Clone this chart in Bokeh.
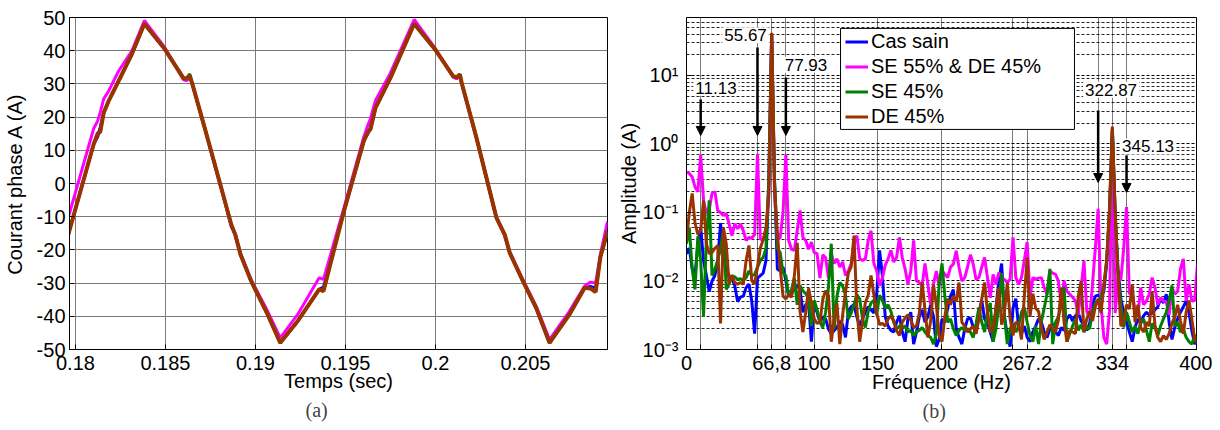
import numpy as np
from bokeh.plotting import figure
from bokeh.layouts import row
from bokeh.models import FixedTicker, Arrow, NormalHead, Label, Title, Range1d, BoxAnnotation
from bokeh.embed import file_html
from bokeh.resources import INLINE

FONT = "Liberation Sans"
SERIF = "Liberation Serif"

# ---------------- data: time domain (a) ----------------
t = [0.17960, 0.18101, 0.18123, 0.18138, 0.18157, 0.18184, 0.18239, 0.18313, 0.18383,
     0.18497, 0.18599, 0.18617, 0.18635, 0.18648, 0.18718, 0.18810, 0.18866, 0.18888,
     0.18917, 0.18976, 0.19068, 0.19138, 0.19234, 0.19354, 0.19378, 0.19492, 0.19602,
     0.19626, 0.19639, 0.19667, 0.19750, 0.19882, 0.19998, 0.20099, 0.20118, 0.20136,
     0.20146, 0.20228, 0.20339, 0.20385, 0.20413, 0.20486, 0.20560, 0.20634, 0.20744,
     0.20829, 0.20862, 0.20890, 0.20917, 0.20956]
i_sain = [-15.4, 11.8, 14.0, 17.0, 21.3, 24.8, 30.8, 38.9, 48.1,
          40.4, 31.8, 31.0, 32.3, 30.3, 16.8, -1.3, -13.0, -15.4,
          -21.4, -29.4, -39.5, -48.0, -41.5, -31.9, -31.2, -8.3, 12.8,
          15.2, 16.8, 22.8, 31.8, 48.1, 40.4, 32.3, 31.6, 32.6,
          30.3, 13.8, -10.3, -15.6, -20.9, -29.4, -37.5, -48.0, -39.5,
          -31.4, -31.0, -31.5, -22.0, -14.5]
i_se55_de45 = [-10.3, 16.5, 18.8, 21.5, 25.5, 27.8, 33.8, 39.9, 49.1,
               40.9, 31.3, 31.0, 32.0, 30.0, 16.5, -1.6, -12.4, -15.4,
               -21.0, -29.0, -38.5, -46.5, -39.5, -28.4, -28.9, -7.3, 14.0,
               17.8, 19.5, 25.0, 33.3, 49.4, 40.8, 32.0, 31.6, 32.3,
               30.0, 13.5, -10.6, -15.6, -20.6, -29.0, -37.0, -47.0, -38.5,
               -30.9, -29.7, -30.0, -21.2, -11.5]
i_se45 = [-15.4, 11.8, 15.0, 15.6, 21.3, 24.8, 30.8, 38.9, 48.1,
          40.4, 31.8, 31.6, 33.0, 30.3, 16.8, -1.3, -12.4, -15.4,
          -21.4, -29.4, -39.5, -48.0, -41.5, -31.9, -32.4, -8.3, 12.8,
          15.6, 16.3, 22.8, 31.8, 48.1, 40.4, 32.3, 32.0, 33.0,
          30.3, 13.8, -10.3, -15.4, -20.9, -29.4, -37.5, -48.0, -39.5,
          -31.4, -31.6, -32.5, -22.0, -14.5]
i_de45 = [-15.4, 11.8, 15.0, 15.6, 21.3, 24.8, 30.8, 38.9, 48.1,
          40.4, 31.8, 31.6, 32.5, 30.3, 16.8, -1.3, -12.4, -15.4,
          -21.4, -29.4, -39.5, -48.0, -41.5, -31.9, -32.4, -8.3, 12.8,
          15.6, 16.3, 22.8, 31.8, 48.1, 40.4, 32.3, 32.0, 32.8,
          30.3, 13.8, -10.3, -15.4, -20.9, -29.4, -37.5, -48.0, -39.5,
          -31.4, -31.6, -32.7, -22.0, -14.5]
t_ticks = [0.18, 0.185, 0.19, 0.195, 0.2, 0.205]
t_labels = ["0.18", "0.185", "0.19", "0.195", "0.2", "0.205"]
i_ticks = [-50, -40, -30, -20, -10, 0, 10, 20, 30, 40, 50]
i_labels = ["-50", "-40", "-30", "-20", "-10", "0", "10", "20", "30", "40", "50"]

# ---------------- data: spectrum (b) ----------------
df = 66.8 / 30
freq = np.arange(181) * df
a_sain = [0.025, 0.03, 0.015, 0.012, 0.035, 0.06, 0.02, 0.012, 0.007, 0.01,
          0.012, 0.02, 0.07, 0.02, 0.015, 0.012, 0.011, 0.0085, 0.005, 0.0058,
          0.006, 0.008, 0.009, 0.005, 0.0017, 0.011, 0.012, 0.013, 0.02, 0.3,
          40, 0.3, 0.015, 0.014, 0.016, 0.01, 0.006, 0.0065, 0.008, 0.0085,
          0.0075, 0.0035, 0.0045, 0.0048, 0.0013, 0.0048, 0.0035, 0.0025, 0.003, 0.0028,
          0.002, 0.0017, 0.0019, 0.0021, 0.0026, 0.0023, 0.0015, 0.0035, 0.0042, 0.0045,
          0.003, 0.0022, 0.0028, 0.0035, 0.0042, 0.0038, 0.0034, 0.0065, 0.028, 0.012,
          0.003, 0.0022, 0.0019, 0.0018, 0.0025, 0.0031, 0.0018, 0.0013, 0.0028, 0.0035,
          0.0012, 0.0018, 0.003, 0.0038, 0.0025, 0.003, 0.0045, 0.003, 0.0011, 0.0014,
          0.0028, 0.0025, 0.004, 0.006, 0.0075, 0.002, 0.0015, 0.0012, 0.002, 0.0028,
          0.0029, 0.0021, 0.0018, 0.0035, 0.0052, 0.0028, 0.0024, 0.0018, 0.0013, 0.004,
          0.01, 0.018, 0.003, 0.0016, 0.0011, 0.004, 0.0055, 0.0021, 0.0017, 0.0022,
          0.0015, 0.0013, 0.0018, 0.0022, 0.0028, 0.0025, 0.0018, 0.0015, 0.002, 0.0024,
          0.0018, 0.0016, 0.0021, 0.0019, 0.0028, 0.0032, 0.0026, 0.0031, 0.0034, 0.0026,
          0.0023, 0.0019, 0.0024, 0.0045, 0.006, 0.0062, 0.0058, 0.007, 0.018, 0.1,
          1.6, 0.09, 0.015, 0.0055, 0.0035, 0.0025, 0.0018, 0.0013, 0.0021, 0.0028,
          0.0024, 0.0031, 0.0035, 0.0032, 0.0034, 0.0038, 0.0042, 0.0055, 0.0048, 0.0064,
          0.0025, 0.0014, 0.0021, 0.0028, 0.0035, 0.0042, 0.0051, 0.0035, 0.0019, 0.0012,
          0.0014]
a_se55_de45 = [0.39, 0.37, 0.33, 0.236, 0.2, 0.69, 0.15, 0.096, 0.11, 0.19,
               0.2, 0.107, 0.1, 0.09, 0.096, 0.068, 0.046, 0.068, 0.058, 0.068,
               0.054, 0.039, 0.043, 0.042, 0.048, 0.72, 0.041, 0.039, 0.054, 0.17,
               40, 0.2, 0.039, 0.043, 0.1, 0.7, 0.039, 0.029, 0.028, 0.054,
               0.107, 0.043, 0.039, 0.029, 0.037, 0.026, 0.025, 0.011, 0.024, 0.022,
               0.011, 0.025, 0.018, 0.021, 0.016, 0.019, 0.012, 0.014, 0.018, 0.035,
               0.046, 0.021, 0.02, 0.021, 0.039, 0.054, 0.018, 0.014, 0.0085, 0.011,
               0.017, 0.021, 0.028, 0.019, 0.022, 0.043, 0.022, 0.015, 0.009, 0.014,
               0.039, 0.01, 0.0095, 0.0085, 0.018, 0.009, 0.0045, 0.009, 0.014, 0.0085,
               0.014, 0.0125, 0.0112, 0.016, 0.0176, 0.0276, 0.0157, 0.01, 0.0112, 0.016,
               0.0241, 0.0176, 0.0105, 0.0112, 0.016, 0.022, 0.0112, 0.0057, 0.0125, 0.0089,
               0.0133, 0.0112, 0.0105, 0.0095, 0.0106, 0.0434, 0.0112, 0.0089, 0.0112, 0.02,
               0.037, 0.0057, 0.0112, 0.0106, 0.011, 0.0112, 0.008, 0.0064, 0.014, 0.013,
               0.0125, 0.01, 0.0045, 0.01, 0.0071, 0.0064, 0.0058, 0.0051, 0.0032, 0.008,
               0.0197, 0.0036, 0.0029, 0.0089, 0.03, 0.113, 0.0045, 0.0015, 0.0012, 0.0036,
               1.5, 0.0034, 0.0112, 0.0105, 0.03, 0.12, 0.0064, 0.0071, 0.0036, 0.0032,
               0.008, 0.0045, 0.0051, 0.0064, 0.0112, 0.008, 0.0045, 0.0057, 0.0051, 0.005,
               0.0032, 0.008, 0.0064, 0.0071, 0.015, 0.021, 0.0051, 0.0089, 0.0051, 0.0052,
               0.018]
a_se45 = [0.035, 0.06, 0.015, 0.0075, 0.045, 0.02, 0.003, 0.04, 0.15, 0.012,
          0.015, 0.02, 0.03, 0.055, 0.0075, 0.009, 0.012, 0.0115, 0.0105, 0.0108,
          0.0102, 0.0112, 0.014, 0.012, 0.0125, 0.0158, 0.02, 0.022, 0.03, 0.3,
          40, 0.3, 0.03, 0.026, 0.013, 0.012, 0.006, 0.0075, 0.011, 0.0045,
          0.0085, 0.0072, 0.0065, 0.0055, 0.0022, 0.0052, 0.0038, 0.0025, 0.0021, 0.0035,
          0.008, 0.035, 0.002, 0.006, 0.0095, 0.0085, 0.0062, 0.0028, 0.0034, 0.0045,
          0.0063, 0.0055, 0.0028, 0.0021, 0.0036, 0.0048, 0.0052, 0.0032, 0.0062, 0.0052,
          0.004, 0.0045, 0.0036, 0.0025, 0.002, 0.0022, 0.0021, 0.0022, 0.0018, 0.0019,
          0.0016, 0.0018, 0.0019, 0.0021, 0.0018, 0.0016, 0.0015, 0.0012, 0.0017, 0.009,
          0.018, 0.006, 0.0025, 0.0028, 0.002, 0.0016, 0.0019, 0.0021, 0.0019, 0.002,
          0.0018, 0.0015, 0.0024, 0.0041, 0.0025, 0.0018, 0.0035, 0.0048, 0.0013, 0.002,
          0.0045, 0.013, 0.003, 0.0012, 0.002, 0.0024, 0.0018, 0.0022, 0.0035, 0.0041,
          0.0025, 0.0016, 0.0013, 0.0022, 0.0012, 0.0026, 0.004, 0.0065, 0.015, 0.0012,
          0.0025, 0.003, 0.0045, 0.0082, 0.0013, 0.0017, 0.0022, 0.0028, 0.0019, 0.0023,
          0.0018, 0.0021, 0.002, 0.0035, 0.0048, 0.0052, 0.0057, 0.0085, 0.02, 0.1,
          1.7, 0.1, 0.012, 0.0045, 0.0021, 0.0035, 0.0025, 0.0018, 0.0022, 0.0017,
          0.0025, 0.0028, 0.0019, 0.0013, 0.0024, 0.0021, 0.0016, 0.0022, 0.0028, 0.0035,
          0.0052, 0.0086, 0.0022, 0.0025, 0.0018, 0.002, 0.0015, 0.0013, 0.0012, 0.0016,
          0.0014]
a_de45 = [0.04, 0.1, 0.19, 0.07, 0.048, 0.055, 0.15, 0.035, 0.025, 0.026,
          0.03, 0.033, 0.0024, 0.06, 0.035, 0.009, 0.012, 0.0095, 0.009, 0.0095,
          0.009, 0.02, 0.033, 0.01, 0.009, 0.016, 0.03, 0.04, 0.06, 0.2,
          42, 0.25, 0.05, 0.0155, 0.006, 0.0055, 0.0063, 0.0058, 0.012, 0.036,
          0.0036, 0.0018, 0.0035, 0.0078, 0.0048, 0.0028, 0.0024, 0.0025, 0.0054, 0.0072,
          0.0062, 0.0013, 0.0028, 0.0047, 0.0012, 0.0032, 0.0068, 0.013, 0.016, 0.046,
          0.004, 0.0013, 0.0026, 0.0048, 0.0062, 0.012, 0.0063, 0.0034, 0.0023, 0.0024,
          0.0022, 0.0028, 0.0031, 0.0026, 0.0019, 0.0016, 0.0025, 0.0029, 0.0032, 0.0027,
          0.0021, 0.0022, 0.0034, 0.0095, 0.0038, 0.0015, 0.0026, 0.0088, 0.0045, 0.0016,
          0.0013, 0.003, 0.0055, 0.0045, 0.006, 0.005, 0.0095, 0.0025, 0.0022, 0.0018,
          0.002, 0.0022, 0.0017, 0.0028, 0.0055, 0.0095, 0.0035, 0.0018, 0.002, 0.004,
          0.008, 0.0023, 0.0035, 0.0095, 0.0028, 0.0016, 0.0025, 0.0024, 0.0014, 0.006,
          0.022, 0.003, 0.0065, 0.004, 0.0036, 0.0021, 0.0014, 0.0018, 0.0023, 0.002,
          0.0018, 0.0027, 0.008, 0.0025, 0.0013, 0.0019, 0.0018, 0.0017, 0.006, 0.01,
          0.0018, 0.0028, 0.0036, 0.0026, 0.0042, 0.0055, 0.0034, 0.0085, 0.02, 0.12,
          1.8, 0.1, 0.012, 0.0022, 0.0025, 0.0045, 0.0039, 0.009, 0.0025, 0.0045,
          0.0021, 0.0018, 0.0025, 0.0022, 0.007, 0.0023, 0.0015, 0.0013, 0.0016, 0.0014,
          0.0017, 0.0024, 0.003, 0.0045, 0.0026, 0.0017, 0.0035, 0.0052, 0.0028, 0.0014,
          0.0012]
f_ticks = [0, 11.13, 55.67, 66.8, 77.93, 100, 150, 200, 256.07, 267.2, 322.87, 334, 345.13, 400]
f_labels = ["0", "", "", "66,8", "", "100", "150", "200", "", "267.2", "", "334", "", "400"]
amp_ticks = [1e-3, 1e-2, 1e-1, 1, 10]
amp_labels = ["10\u207b\u00b3", "10\u207b\u00b2", "10\u207b\u00b9", "10\u2070", "10\u00b9"]
marked_freqs = ["11.13", "55.67", "77.93", "322.87", "345.13"]

names = ["Cas sain", "SE 55% & DE 45%", "SE 45%", "DE 45%"]
colors = ["#0000FF", "#FF00FF", "#008000", "#993300"]


def style_axis(ax):
    ax.major_label_text_font = FONT
    ax.major_label_text_font_size = "20px"
    ax.major_label_text_color = "black"
    ax.axis_label_text_font = FONT
    ax.axis_label_text_font_size = "20px"
    ax.axis_label_text_font_style = "normal"
    ax.axis_label_text_color = "black"
    ax.axis_line_color = "black"
    ax.major_tick_line_color = "black"
    ax.major_tick_in = 5
    ax.major_tick_out = 0
    ax.minor_tick_in = 0
    ax.minor_tick_out = 0
    ax.major_label_standoff = 4


# ---------------- left figure ----------------
p1 = figure(width=612, height=428, output_backend="svg", toolbar_location=None, title=None,
            x_range=Range1d(0.17967, 0.20956), y_range=Range1d(-50, 50),
            min_border_left=66, min_border_right=5, min_border_top=17, min_border_bottom=79)
p1.outline_line_color = "black"
p1.outline_line_alpha = 1
for ax in (p1.xaxis[0], p1.yaxis[0]):
    style_axis(ax)
p1.xaxis.ticker = FixedTicker(ticks=t_ticks)
p1.xaxis.major_label_overrides = dict(zip(t_ticks, t_labels))
p1.yaxis.ticker = FixedTicker(ticks=i_ticks)
p1.yaxis.major_label_overrides = dict(zip(i_ticks, i_labels))
p1.xaxis.axis_label = "Temps (sec)"
p1.yaxis.axis_label = "Courant phase A (A)"
p1.xaxis.major_label_standoff = 6
p1.xaxis.axis_label_standoff = -3
p1.yaxis.axis_label_standoff = 8
p1.grid.grid_line_color = "#7a7a7a"
p1.grid.grid_line_width = 1

widths1 = [3, 3, 3, 4]
for ys, c, w in zip([i_sain, i_se55_de45, i_se45, i_de45], colors, widths1):
    p1.line(t, ys, line_color=c, line_width=w)

p1.add_layout(Title(text="(a)", align="left", offset=236, text_font=SERIF,
                    text_font_size="20px", text_font_style="normal", standoff=4), "below")

# ---------------- right figure ----------------
p2 = figure(width=600, height=428, output_backend="svg", toolbar_location=None, title=None,
            y_axis_type="log", x_range=Range1d(0, 400), y_range=Range1d(1e-3, 70),
            min_border_left=74, min_border_right=16, min_border_top=17, min_border_bottom=79)
p2.outline_line_color = "black"
p2.outline_line_alpha = 1
for ax in (p2.xaxis[0], p2.yaxis[0]):
    style_axis(ax)
p2.xaxis.ticker = FixedTicker(ticks=f_ticks)
p2.xaxis.major_label_overrides = dict(zip(f_ticks, f_labels))
minor = [m * 10.0 ** e for e in range(-3, 2) for m in range(2, 10)]
p2.yaxis.ticker = FixedTicker(ticks=amp_ticks, minor_ticks=minor)
p2.yaxis.major_label_overrides = dict(zip(amp_ticks, amp_labels))
p2.yaxis.major_label_standoff = 8
p2.xaxis.major_label_standoff = 6
p2.xaxis.axis_label = "Fréquence (Hz)"
p2.yaxis.axis_label = "Amplitude (A)"
p2.xaxis.axis_label_standoff = -2
p2.yaxis.axis_label_standoff = 0
p2.xgrid.grid_line_color = "#7a7a7a"
p2.xgrid.grid_line_width = 1
p2.ygrid.grid_line_color = "black"
p2.ygrid.grid_line_dash = "3 2"
p2.ygrid.grid_line_width = 1
p2.ygrid.minor_grid_line_color = "black"
p2.ygrid.minor_grid_line_dash = "3 2"
p2.ygrid.minor_grid_line_width = 1
p2.ygrid.minor_grid_line_alpha = 0.85

for ys, c, n in zip([a_sain, a_se55_de45, a_se45, a_de45], colors, names):
    p2.line(freq, ys, line_color=c, line_width=3, legend_label=n)

# arrows and labels marking the fault frequencies
arrow_pos = [(11.13, 4.46, 1.33), (55.67, 25.6, 1.33), (77.93, 9.35, 1.33),
             (322.87, 3.08, 0.274), (345.13, 0.68, 0.196)]
label_pos = [(23.1, 6.6), (46.3, 38.4), (93.7, 14.3), (333.0, 6.18), (362.0, 0.92)]
for (x, y0, y1) in arrow_pos:
    p2.add_layout(Arrow(x_start=x, y_start=y0, x_end=x, y_end=y1, line_color="black",
                        line_width=2.5,
                        end=NormalHead(size=9, fill_color="black", line_color="black", line_width=1)))
for (x, y), txt in zip(label_pos, marked_freqs):
    p2.add_layout(Label(x=x, y=y, text=txt, text_font=FONT, text_font_size="17px",
                        text_color="black", text_align="center", text_baseline="middle",
                        background_fill_color="white", background_fill_alpha=1.0,
                        border_line_color=None, padding=2))

# legend frame (white box with black border), legend drawn on top of it
lg = p2.legend[0]
p2.center.remove(lg)
p2.add_layout(BoxAnnotation(left=120.8, right=304.3, bottom=1.628, top=48.5,
                            fill_color="white", fill_alpha=1.0,
                            line_color="black", line_width=1, line_alpha=1.0))
lg.location = (159, 220)
lg.label_text_font = FONT
lg.label_text_font_size = "20px"
lg.label_text_color = "black"
lg.glyph_width = 23
lg.glyph_height = 25
lg.label_height = 25
lg.label_standoff = 3
lg.padding = 0
lg.spacing = 0
lg.margin = 0
lg.border_line_color = None
lg.background_fill_alpha = 0
p2.add_layout(lg)

p2.add_layout(Title(text="(b)", align="left", offset=236, text_font=SERIF,
                    text_font_size="20px", text_font_style="normal", standoff=4), "below")

layout = row(p1, p2)
open("out.html", "w").write(file_html(layout, INLINE))
